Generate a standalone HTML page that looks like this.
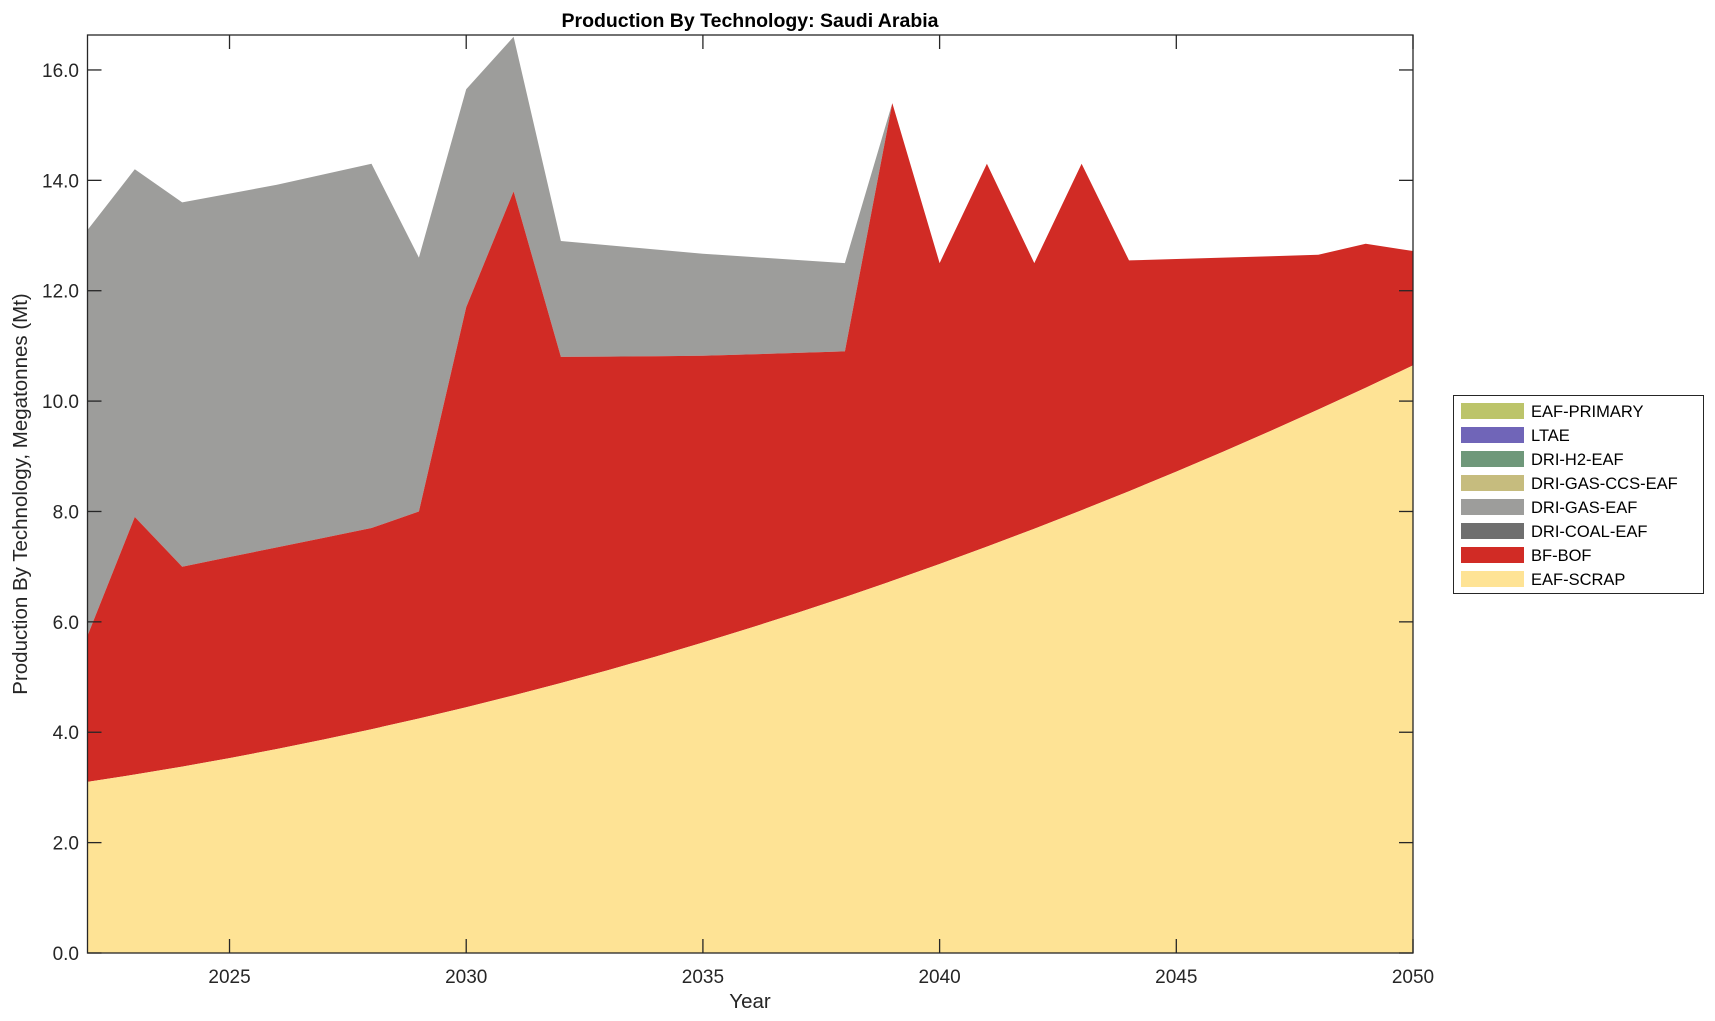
<!DOCTYPE html>
<html><head><meta charset="utf-8"><style>
body{margin:0;background:#fff;}
svg{display:block;font-family:"Liberation Sans",Arial,sans-serif;}
</style></head><body>
<svg id="s" width="1715" height="1021" viewBox="0 0 1715 1021" xmlns="http://www.w3.org/2000/svg">
<rect width="1715" height="1021" fill="#fff"/>
<g id="areas"></g>
<g id="axes" stroke="#262626" stroke-width="1.3" fill="none"></g>
<text x="750" y="27" text-anchor="middle" font-size="19.5" font-weight="bold" fill="#000">Production By Technology: Saudi Arabia</text>
<text x="750" y="1008" text-anchor="middle" font-size="20.5" fill="#262626">Year</text>
<text transform="translate(27,494) rotate(-90)" text-anchor="middle" font-size="20.5" fill="#262626">Production By Technology, Megatonnes (Mt)</text>
<g id="labels" font-size="19" fill="#262626"></g>
<g id="legend" font-size="16.5" fill="#000">
<rect x="1453.5" y="395.5" width="250" height="198" fill="#fff" stroke="#262626" stroke-width="1"/>
</g>
</svg>
<script>
var L=87.5,R=1413,T=35,B=953;
function X(y){return L+(y-2022)*(R-L)/28;}
function Y(v){return B-v*55.19;}
var yrs=[];for(var y=2022;y<=2050;y++)yrs.push(y);
var scrap=yrs.map(function(y){var t=y-2022;return 3.1+0.129*t+0.00502*t*t;});
var redK={2022:5.75,2023:7.9,2024:7.0,2028:7.7,2029:8.0,2030:11.7,2031:13.8,2032:10.8,2035:10.82,2038:10.9,2039:15.4,2040:12.5,2041:14.3,2042:12.5,2043:14.3,2044:12.55,2048:12.65,2049:12.85,2050:12.72};
var grayK={2022:13.1,2023:14.2,2024:13.6,2026:13.92,2028:14.3,2029:12.6,2030:15.65,2031:16.6,2032:12.9,2035:12.67,2038:12.5,2039:15.4,2040:12.5,2041:14.3,2042:12.5,2043:14.3,2044:12.55,2048:12.65,2049:12.85,2050:12.72};
function interp(K){var ks=Object.keys(K).map(Number).sort(function(a,b){return a-b});
return yrs.map(function(y){for(var i=0;i<ks.length-1;i++){if(y>=ks[i]&&y<=ks[i+1]){var t=(y-ks[i])/(ks[i+1]-ks[i]);return K[ks[i]]+t*(K[ks[i+1]]-K[ks[i]]);}}return K[ks[ks.length-1]];});}
var red=interp(redK),gray=interp(grayK);
function poly(top,bot,col){var p=[];yrs.forEach(function(y,i){p.push(X(y).toFixed(1)+","+Y(top[i]).toFixed(1));});
for(var i=yrs.length-1;i>=0;i--)p.push(X(yrs[i]).toFixed(1)+","+Y(bot[i]).toFixed(1));
return '<polygon points="'+p.join(" ")+'" fill="'+col+'"/>';}
var zero=yrs.map(function(){return 0;});
document.getElementById("areas").innerHTML=poly(gray,red,"#9d9d9b")+poly(red,scrap,"#d12b25")+poly(scrap,zero,"#fee395");
var ax='<rect x="'+L+'" y="'+T+'" width="'+(R-L)+'" height="'+(B-T)+'"/>',lb="";
for(var v=0;v<=16;v+=2){var yy=Y(v);ax+='<line x1="'+L+'" y1="'+yy+'" x2="'+(L+14)+'" y2="'+yy+'"/><line x1="'+R+'" y1="'+yy+'" x2="'+(R-14)+'" y2="'+yy+'"/>';
lb+='<text x="79" y="'+(yy+7)+'" text-anchor="end">'+v.toFixed(1)+'</text>';}
[2025,2030,2035,2040,2045,2050].forEach(function(y){var xx=X(y);ax+='<line x1="'+xx+'" y1="'+B+'" x2="'+xx+'" y2="'+(B-14)+'"/><line x1="'+xx+'" y1="'+T+'" x2="'+xx+'" y2="'+(T+14)+'"/>';
lb+='<text x="'+xx+'" y="'+(B+30)+'" text-anchor="middle">'+y+'</text>';});
document.getElementById("axes").innerHTML=ax;document.getElementById("labels").innerHTML=lb;
var items=[["EAF-PRIMARY","#bcc46a"],["LTAE","#7065b8"],["DRI-H2-EAF","#6f987a"],["DRI-GAS-CCS-EAF","#c6bc7e"],["DRI-GAS-EAF","#9d9d9b"],["DRI-COAL-EAF","#6f6f6f"],["BF-BOF","#d12b25"],["EAF-SCRAP","#fee395"]];
var lg="";items.forEach(function(it,i){var cy=411+i*24;lg+='<rect x="1461" y="'+(cy-8)+'" width="63" height="16" fill="'+it[1]+'"/><text x="1531" y="'+(cy+6)+'">'+it[0]+'</text>';});
document.getElementById("legend").insertAdjacentHTML("beforeend",lg);
</script>
</body></html>
